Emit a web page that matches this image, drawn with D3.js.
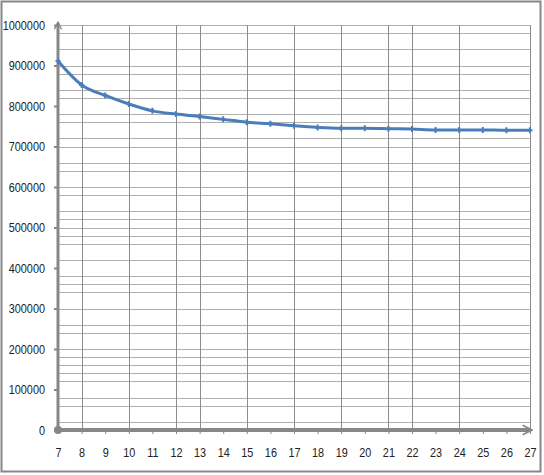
<!DOCTYPE html>
<html>
<head>
<meta charset="utf-8">
<script src="https://cdn.jsdelivr.net/npm/d3@7"></script>
<style>
  body { margin: 0; background: #fff; }
  svg text { font-family: "Liberation Sans", Arial, sans-serif; font-size: 12.5px; fill: #222; }
</style>
</head>
<body>
<div id="chart"></div>
<script>
// Data
var categories = [7, 8, 9, 10, 11, 12, 13, 14, 15, 16, 17, 18, 19, 20, 21, 22, 23, 24, 25, 26, 27];
var values = [911000, 852000, 826000, 805000, 788000, 780000, 774000, 767000, 760000, 756000,
              751000, 747000, 745000, 745000, 744000, 743000, 741000, 741000, 741000, 740000, 740000];
var yTicks = [0, 100000, 200000, 300000, 400000, 500000, 600000, 700000, 800000, 900000, 1000000];
// gridlines as drawn in the original (some of them are missing there)
var vGrid = [8, 10, 12, 13, 15, 17, 19, 21, 22, 24, 27];
var hGrid = [1000000, 980000, 940000, 900000, 880000, 840000, 820000, 780000, 760000, 720000, 700000,
             660000, 640000, 600000, 580000, 540000, 520000, 500000, 480000, 460000, 420000, 380000,
             360000, 340000, 300000, 260000, 240000, 200000, 180000, 160000, 140000, 120000, 80000,
             60000, 20000];

var W = 544, H = 475;
var lineColor = "#4a7ebb",
    axisColor = "#878787",
    vGridColor = "#8c8c8c",
    hGridColor = "#b0b0b0",
    narrow = 0.87;   // labels in the original are a condensed face

var svg = d3.select("#chart").append("svg")
    .attr("width", W)
    .attr("height", H);

// outer frame
svg.append("rect")
    .attr("x", 1.5).attr("y", 1.5)
    .attr("width", 539).attr("height", 470)
    .attr("fill", "none")
    .attr("stroke", axisColor)
    .attr("stroke-width", 2);

var x = d3.scalePoint()
    .domain(categories)
    .range([58, 530]);

var y = d3.scaleLinear()
    .domain([0, 1000000])
    .range([430, 25]);

// horizontal gridlines
svg.append("g").selectAll("line")
    .data(hGrid)
    .enter().append("line")
    .attr("x1", x(7)).attr("x2", x(27))
    .attr("y1", function(d) { return Math.round(y(d)) + 0.5; })
    .attr("y2", function(d) { return Math.round(y(d)) + 0.5; })
    .attr("stroke", hGridColor)
    .attr("stroke-width", 1);

// vertical gridlines
svg.append("g").selectAll("line")
    .data(vGrid)
    .enter().append("line")
    .attr("x1", function(d) { return Math.round(x(d)) + 0.5; })
    .attr("x2", function(d) { return Math.round(x(d)) + 0.5; })
    .attr("y1", y(1000000)).attr("y2", y(0))
    .attr("stroke", vGridColor)
    .attr("stroke-width", 1);

// arrow markers for axes
var defs = svg.append("defs");
defs.append("marker")
    .attr("id", "arrow")
    .attr("viewBox", "0 0 10 10")
    .attr("refX", 8).attr("refY", 5)
    .attr("markerWidth", 3).attr("markerHeight", 3)
    .attr("orient", "auto")
    .append("path")
    .attr("d", "M1,1 L9,5 L1,9")
    .attr("fill", "none")
    .attr("stroke", axisColor)
    .attr("stroke-width", 1.5);

// squeeze a tick label horizontally around its anchor
var squeeze = function(sel) {
    sel.each(function() {
        var t = d3.select(this);
        var tx = +t.attr("x") || 0;
        t.attr("x", 0)
         .attr("transform", "translate(" + tx + ",0) scale(" + narrow + ",1)");
    });
};

// y axis
var yAxis = d3.axisLeft(y)
    .tickValues(yTicks)
    .tickSize(4)
    .tickPadding(9)
    .tickFormat(d3.format("d"));
var gy = svg.append("g")
    .attr("transform", "translate(" + x(7) + ",0)")
    .call(yAxis);
gy.select(".domain").remove();
gy.selectAll(".tick line").attr("stroke", axisColor).attr("stroke-width", 2);
gy.selectAll(".tick text").attr("dy", "0.35em").call(squeeze);

svg.append("line")
    .attr("x1", x(7)).attr("x2", x(7))
    .attr("y1", y(0)).attr("y2", y(1000000) - 2)
    .attr("stroke", axisColor)
    .attr("stroke-width", 3)
    .attr("marker-end", "url(#arrow)");

// x axis
var xAxis = d3.axisBottom(x)
    .tickSize(4)
    .tickPadding(14);
var gx = svg.append("g")
    .attr("transform", "translate(0," + y(0) + ")")
    .call(xAxis);
gx.select(".domain").remove();
gx.selectAll(".tick line").attr("stroke", axisColor).attr("stroke-width", 1);
gx.selectAll(".tick text").call(squeeze);

svg.append("line")
    .attr("x1", x(7)).attr("x2", x(27) + 1)
    .attr("y1", y(0)).attr("y2", y(0))
    .attr("stroke", axisColor)
    .attr("stroke-width", 4)
    .attr("marker-end", "url(#arrow)");

// origin dot
svg.append("circle")
    .attr("cx", x(7)).attr("cy", y(0))
    .attr("r", 4)
    .attr("fill", axisColor);

// series line
var line = d3.line()
    .x(function(d, i) { return x(categories[i]); })
    .y(function(d) { return y(d); })
    .curve(d3.curveMonotoneX);

svg.append("path")
    .datum(values)
    .attr("fill", "none")
    .attr("stroke", lineColor)
    .attr("stroke-width", 3)
    .attr("d", line);

// small cross markers
svg.append("g").selectAll("path")
    .data(values)
    .enter().append("path")
    .attr("d", function(d, i) {
        var cx = x(categories[i]), cy = y(d);
        return "M" + (cx - 2.5) + "," + cy + "H" + (cx + 2.5) + "M" + cx + "," + (cy - 3) + "V" + (cy + 3);
    })
    .attr("stroke", lineColor)
    .attr("stroke-width", 2);
</script>
</body>
</html>
